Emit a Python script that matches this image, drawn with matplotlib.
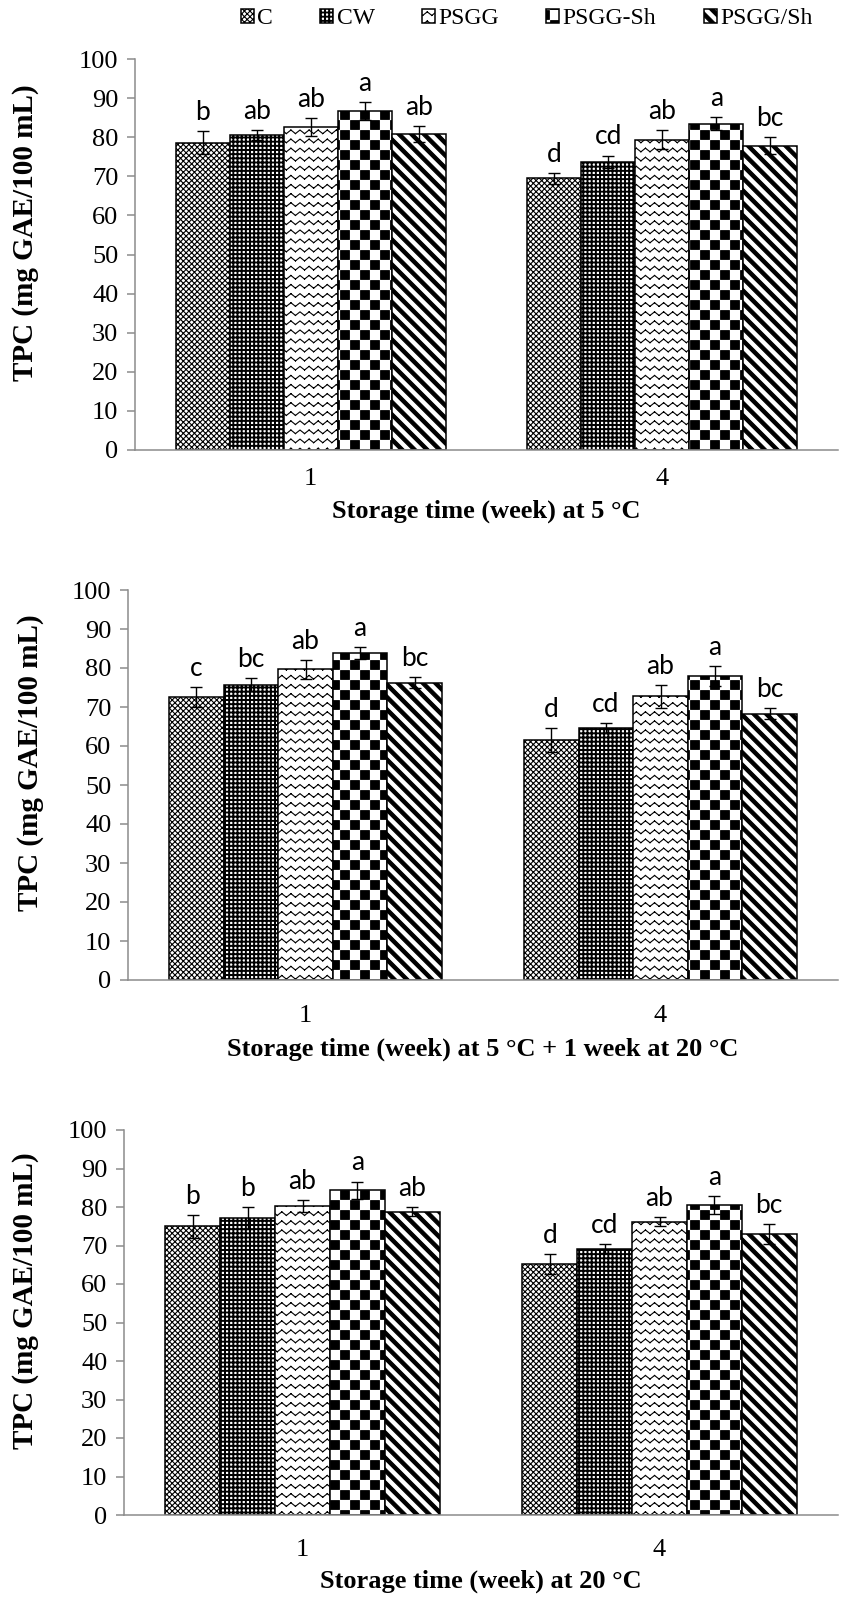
import numpy as np
import matplotlib
matplotlib.use("Agg")
import matplotlib.pyplot as plt
import matplotlib.hatch as mhatch
from matplotlib.path import Path

# ---------------- data ----------------
groups = ["1", "4"]
series = ["C", "CW", "PSGG", "PSGG-Sh", "PSGG/Sh"]

# panel 1: storage at 5 °C
p1_mean = [[78.6, 69.5], [80.6, 73.7], [82.6, 79.4], [86.7, 83.5], [80.9, 77.8]]
p1_err = [[3.0, 1.4], [1.3, 1.6], [2.3, 2.5], [2.2, 1.7], [2.0, 2.2]]
p1_let = [["b", "d"], ["ab", "cd"], ["ab", "ab"], ["a", "a"], ["ab", "bc"]]

# panel 2: storage at 5 °C + 1 week at 20 °C
p2_mean = [[72.6, 61.5], [75.7, 64.6], [79.7, 72.7], [83.8, 77.9], [76.2, 68.3]]
p2_err = [[2.5, 3.0], [1.7, 1.3], [2.4, 2.9], [1.5, 2.6], [1.4, 1.5]]
p2_let = [["c", "d"], ["bc", "cd"], ["ab", "ab"], ["a", "a"], ["bc", "bc"]]

# panel 3: storage at 20 °C
p3_mean = [[75.0, 65.2], [77.2, 69.2], [80.2, 76.2], [84.4, 80.5], [78.8, 73.0]]
p3_err = [[3.0, 2.6], [2.8, 1.2], [1.5, 1.2], [2.2, 2.3], [1.2, 2.6]]
p3_let = [["b", "d"], ["b", "cd"], ["ab", "ab"], ["a", "a"], ["ab", "bc"]]

xlabels = ["Storage time (week) at 5 \u00b0C",
           "Storage time (week) at 5 \u00b0C + 1 week at 20 \u00b0C",
           "Storage time (week) at 20 \u00b0C"]
ylabel = "TPC (mg GAE/100 mL)"
yticks = list(range(0, 101, 10))

# ---------------- custom hatch patterns ----------------
def _seg(v, c, p, q):
    v += [p, q]
    c += [Path.MOVETO, Path.LINETO]

def _poly(v, c, pts):
    v += list(pts) + [pts[0]]
    c += [Path.MOVETO] + [Path.LINETO] * (len(pts) - 1) + [Path.CLOSEPOLY]

def hatch_mesh():
    v, c = [], []
    n = 18
    for k in range(-n, n + 1):
        x = k / n
        _seg(v, c, (x, 0), (x + 1, 1))
        _seg(v, c, (x, 1), (x + 1, 0))
    return v, c

def hatch_grid():
    v, c = [], []
    n = 24
    t = 0.008
    for k in range(n + 1):
        y = k / n
        _poly(v, c, [(0, y - t / 2), (1, y - t / 2), (1, y + t / 2), (0, y + t / 2)])
        _poly(v, c, [(y - t / 2, 0), (y + t / 2, 0), (y + t / 2, 1), (y - t / 2, 1)])
    return v, c

def hatch_zig():
    v, c = [], []
    n = 11
    a = 0.018
    for r in range(n):
        yc = (r + 0.5) / n
        pts = [(k / (2 * n), yc + (a if k % 2 == 0 else -a)) for k in range(2 * n + 1)]
        for p, q in zip(pts[:-1], pts[1:]):
            _seg(v, c, p, q)
    return v, c

def hatch_check():
    v, c = [], []
    n = 10
    s = 0.007
    for i in range(n):
        for j in range(n):
            if (i + j) % 2 == 0:
                x0, y0 = i / n + s, j / n + s
                x1, y1 = (i + 1) / n - s, (j + 1) / n - s
                _poly(v, c, [(x0, y0), (x1, y0), (x1, y1), (x0, y1)])
    return v, c

def hatch_diag():
    v, c = [], []
    n = 8
    w = 0.5 / n - 0.015
    for k in range(-n, n + 1):
        x0 = k / n
        _poly(v, c, [(x0, 1), (x0 + w, 1), (x0 + w + 1, 0), (x0 + 1, 0)])
    return v, c

class PolyHatch(mhatch.HatchPatternBase):
    builders = {"c": hatch_mesh, "w": hatch_grid, "z": hatch_zig,
                "k": hatch_check, "d": hatch_diag}

    def __init__(self, hatch, density):
        verts, codes = [], []
        for ch, fn in PolyHatch.builders.items():
            if ch in hatch:
                v, c = fn()
                verts += v
                codes += c
        self._v = np.array(verts, float).reshape(-1, 2)
        self._c = np.array(codes, dtype=Path.code_type)
        self.num_vertices = len(self._v)

    def set_vertices_and_codes(self, vertices, codes):
        vertices[:] = self._v
        codes[:] = self._c

mhatch._hatch_types.append(PolyHatch)
mhatch._validate_hatch_pattern = lambda hatch: None

series_hatch = ["c", "w", "z", "k", "d"]

# ---------------- figure ----------------
plt.rcParams["hatch.linewidth"] = 0.8
serif = ["Liberation Serif", "DejaVu Serif"]
letter_font = ["Lato", "DejaVu Sans"]
spine_col = "#8c8c8c"

W, H = 843, 1611
fig = plt.figure(figsize=(W / 100, H / 100), dpi=100)

# axes rectangles in pixels: left, right, top, bottom
rects = [(135, 838, 59, 450), (128, 838, 590, 980), (124, 838, 1130, 1515)]
panels = [(p1_mean, p1_err, p1_let), (p2_mean, p2_err, p2_let), (p3_mean, p3_err, p3_let)]
xlab_y = [-0.128, -0.148, -0.141]
ylab_x = [-0.137, -0.118, -0.119]
xtick_pad = [13, 18, 17.5]

bw = 0.1536
x = np.arange(len(groups))
handles = []
for pi, ((l, r, t, b), (means, errs, lets)) in enumerate(zip(rects, panels)):
    ax = fig.add_axes([l / W, 1 - b / H, (r - l) / W, (b - t) / H])
    for si, name in enumerate(series):
        xs = x + (si - 2) * bw
        bars = ax.bar(xs, means[si], width=bw, facecolor="white", edgecolor="black",
                      linewidth=1.1, hatch=series_hatch[si], label=name, zorder=2)
        ax.errorbar(xs, means[si], yerr=errs[si], fmt="none", ecolor="black",
                    elinewidth=1.0, capsize=4, capthick=1.0, zorder=3)
        for xi, m, e, s in zip(xs, means[si], errs[si], lets[si]):
            ax.annotate(s, xy=(xi, m + e), xytext=(0, 8), textcoords="offset points",
                        ha="center", va="baseline", fontsize=19, family=letter_font)
        if pi == 0:
            handles.append(bars)
    ax.set_xlim(-0.5, len(groups) - 0.5)
    ax.set_ylim(0, 100)
    ax.set_yticks(yticks)
    ax.set_xticks(x)
    ax.set_xticklabels(groups, fontsize=19, family=serif)
    for lab in ax.get_yticklabels():
        lab.set_fontsize(19)
        lab.set_family(serif)
    ax.tick_params(axis="x", length=0, pad=xtick_pad[pi])
    ax.tick_params(axis="y", length=6, width=1.1, color=spine_col, pad=6)
    for sp in ["top", "right"]:
        ax.spines[sp].set_visible(False)
    for sp in ["left", "bottom"]:
        ax.spines[sp].set_color(spine_col)
        ax.spines[sp].set_linewidth(1.1)
    ax.set_xlabel(xlabels[pi], fontsize=19, fontweight="bold", family=serif)
    ax.xaxis.set_label_coords(0.5, xlab_y[pi])
    ax.set_ylabel(ylabel, fontsize=21, fontweight="bold", family=serif)
    ax.yaxis.set_label_coords(ylab_x[pi], 0.557)
    ax.set_facecolor("none")

fig.legend(handles, series, loc="center", bbox_to_anchor=(0.6246, 1 - 18.5 / H),
           ncol=5, frameon=False, prop={"family": serif, "size": 17},
           handlelength=0.55, handleheight=0.55, handletextpad=0.15, columnspacing=2.0,
           borderaxespad=0, borderpad=0)

fig.savefig("out.png", dpi=100)
